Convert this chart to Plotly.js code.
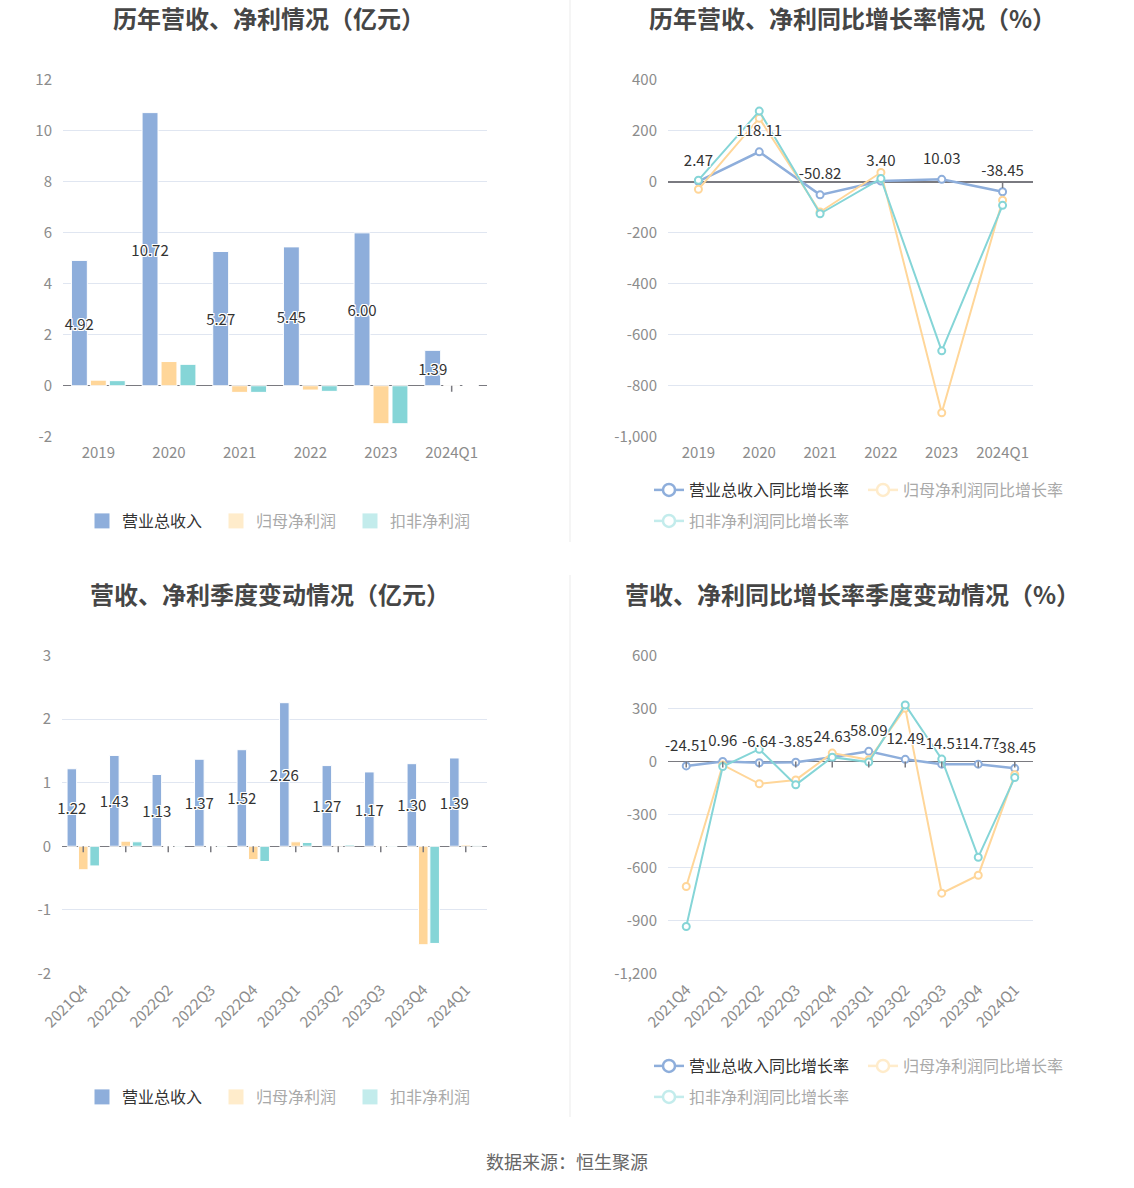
<!DOCTYPE html>
<html><head><meta charset="utf-8">
<script src="https://cdn.plot.ly/plotly-3.0.1.min.js"></script>
<style>html,body{margin:0;padding:0;background:#fff;} #chart{width:1134px;height:1188px;}</style>
</head><body><div id="chart"></div>
<script>
// ---------------- data ----------------
const years = ['2019','2020','2021','2022','2023','2024Q1'];
const revenue = [4.92,10.72,5.27,5.45,6.00,1.39];
const netProfit = [0.22,0.95,-0.26,-0.17,-1.49,0.02];
const deductedProfit = [0.20,0.84,-0.26,-0.22,-1.49,0.01];

const revenueGrowth = [2.47,118.11,-50.82,3.40,10.03,-38.45];
const netProfitGrowth = [-29,250,-118,37,-906,-72];
const deductedGrowth = [7,278,-125,13,-663,-92];

const quarters = ['2021Q4','2022Q1','2022Q2','2022Q3','2022Q4','2023Q1','2023Q2','2023Q3','2023Q4','2024Q1'];
const qRevenue = [1.22,1.43,1.13,1.37,1.52,2.26,1.27,1.17,1.30,1.39];
const qNetProfit = [-0.37,0.08,-0.005,-0.004,-0.21,0.07,0.01,-0.01,-1.55,0.02];
const qDeducted = [-0.31,0.07,-0.01,-0.01,-0.24,0.06,0.02,-0.01,-1.53,0.01];

const qRevenueGrowth = [-24.51,0.96,-6.64,-3.85,24.63,58.09,12.49,-14.51,-14.77,-38.45];
const qNetProfitGrowth = [-708,-19,-126,-104,48,10,302,-746,-644,-75];
const qDeductedGrowth = [-935,-28,70,-132,25,-3,321,14,-542,-91];

const ticksAnnual = [-2,0,2,4,6,8,10,12];
const ticksAnnualGrowth = [-1000,-800,-600,-400,-200,0,200,400];
const ticksQuarter = [-2,-1,0,1,2,3];
const ticksQuarterGrowth = [-1200,-900,-600,-300,0,300,600];

const barNames = ['营业总收入','归母净利润','扣非净利润'];
const lineNames = ['营业总收入同比增长率','归母净利润同比增长率','扣非净利润同比增长率'];
const titles = ['历年营收、净利情况（亿元）','历年营收、净利同比增长率情况（%）','营收、净利季度变动情况（亿元）','营收、净利同比增长率季度变动情况（%）'];
const sourceText = '数据来源：恒生聚源';

// ---------------- style ----------------
const W = 1134, H = 1188;
const FONT = '"Noto Sans CJK SC", "Noto Sans", sans-serif';
const C = ['#8eaedb','#ffd699','#85d5d7'];
const CF = ['#8eaedb','#ffeccb','#c3ecec'];
const grid = '#e0e6f1';
const axisText = '#8c8c8c';
const zeroColor = '#7a7a80';
const shadow = '1px 1px 0 #fff, -1px -1px 0 #fff, 1px -1px 0 #fff, -1px 1px 0 #fff, 0 1px 0 #fff, 0 -1px 0 #fff, 1px 0 0 #fff, -1px 0 0 #fff';
const px = x => x / W;
const py = y => 1 - y / H;
const fmt = v => v.toLocaleString('en-US');
const fmt2 = v => v.toFixed(2);

function yAx(dom, anchor, ticks){
  return {domain:[py(dom[1]), py(dom[0])], anchor:anchor, range:[ticks[0], ticks[ticks.length-1]],
    tickvals:ticks, ticktext:ticks.map(fmt), gridcolor:grid, gridwidth:1,
    zeroline:true, zerolinecolor:zeroColor, zerolinewidth:1.5, showline:false, ticks:'',
    tickfont:{family:FONT,size:15,color:axisText}, ticklabelstandoff:10, fixedrange:true};
}
function xAx(dom, anchor, cats, angle){
  return {domain:[px(dom[0]), px(dom[1])], anchor:anchor, type:'category', categoryarray:cats,
    range:[-0.5, cats.length-0.5], showgrid:false, zeroline:false, showline:false, ticks:'',
    tickangle:angle, tickfont:{family:FONT,size:15,color:axisText}, ticklabelstandoff: angle ? 4 : 5, fixedrange:true};
}

const traces = [];
const shapes = [];
function addZeroTicks(xa, ya, cats){
  cats.forEach(c => shapes.push({type:'line', xref:xa, yref:ya, ysizemode:'pixel', yanchor:0,
    x0:c, x1:c, y0:0, y1:-6, line:{color:zeroColor, width:1.5}, layer:'above'}));
}
function addBars(xa, ya, cats, series, legendId){
  series.forEach((vals, i) => {
    const t = {type:'bar', x:cats, y:vals, xaxis:xa, yaxis:ya, name:barNames[i], showlegend:false,
      marker:{color:C[i], line:{color:'#fff', width:1}}, hoverinfo:'skip', cliponaxis:false};
    if (i === 0) {
      Object.assign(t, {text:vals.map(fmt2), textposition:'inside', insidetextanchor:'middle',
        textangle:0, constraintext:'none',
        insidetextfont:{family:FONT,size:15,color:'#333',shadow:shadow},
        textfont:{family:FONT,size:15,color:'#333',shadow:shadow}});
    }
    traces.push(t);
  });
  barNames.forEach((n, i) => {
    traces.push({type:'scatter', mode:'markers', x:[cats[0]], y:[null], xaxis:xa, yaxis:ya,
      name: i === 0 ? n : '<span style="color:#a9a9a9">'+n+'</span>', legend:legendId, legendwidth:89,
      marker:{symbol:'square', size:15, color:CF[i], line:{width:0}}, hoverinfo:'skip'});
  });
  addZeroTicks(xa, ya, cats);
}
function addLines(xa, ya, cats, series, legendIds){
  series.forEach((vals, i) => {
    traces.push({type:'scatter', mode:'lines+markers', x:cats, y:vals,
      xaxis:xa, yaxis:ya, name:lineNames[i], showlegend:false, cliponaxis:false,
      line:{color:C[i], width: i === 0 ? 2.5 : 2},
      marker:{symbol:'circle', size:7, color:'#fff', line:{color:C[i], width:2}}, hoverinfo:'skip'});
  });
  // value labels of the revenue growth series, drawn above all lines
  traces.push({type:'scatter', mode:'markers+text', x:cats, y:series[0], xaxis:xa, yaxis:ya, showlegend:false,
    cliponaxis:false, text:series[0].map(fmt2), textposition:'top center',
    marker:{size:17, color:'rgba(0,0,0,0)', line:{width:0}},
    textfont:{family:FONT,size:15,color:'#333',shadow:shadow}, hoverinfo:'skip'});
  lineNames.forEach((n, i) => {
    traces.push({type:'scatter', mode:'lines+markers', x:[cats[0]], y:[null], xaxis:xa, yaxis:ya,
      name: i === 0 ? n : '<span style="color:#a9a9a9">'+n+'</span>', legend: i < 2 ? legendIds[0] : legendIds[1],
      legendwidth:169,
      line:{color: i === 0 ? C[0] : CF[i], width:2.5},
      marker:{symbol:'circle', size:12, color:'#fff', line:{color: i === 0 ? C[0] : CF[i], width:2.5}}, hoverinfo:'skip'});
  });
  addZeroTicks(xa, ya, cats);
}

addBars('x','y', years, [revenue, netProfit, deductedProfit], 'legend');
addLines('x2','y2', years, [revenueGrowth, netProfitGrowth, deductedGrowth], ['legend2','legend3']);
addBars('x3','y3', quarters, [qRevenue, qNetProfit, qDeducted], 'legend4');
addLines('x4','y4', quarters, [qRevenueGrowth, qNetProfitGrowth, qDeductedGrowth], ['legend5','legend6']);

function leg(x, y){
  return {orientation:'h', x:px(x), xanchor:'left', y:py(y), yanchor:'middle',
    font:{family:FONT,size:16,color:'#333'}, bgcolor:'rgba(0,0,0,0)', itemclick:false, itemdoubleclick:false,
    itemwidth:30, tracegroupgap:0};
}

const titleFont = {family:FONT, size:24, color:'#464646', weight:'bold'};
function ann(text, x, y, font){
  return {text:text, x:px(x), y:py(y), xref:'paper', yref:'paper', xanchor:'center', yanchor:'middle', showarrow:false, font:font};
}
shapes.push(
  {type:'line', xref:'paper', yref:'paper', x0:px(570), x1:px(570), y0:py(0), y1:py(542), line:{color:'#ebebeb', width:1}},
  {type:'line', xref:'paper', yref:'paper', x0:px(570), x1:px(570), y0:py(575), y1:py(1117), line:{color:'#ebebeb', width:1}}
);

const layout = {
  width:W, height:H, margin:{l:0,r:0,t:0,b:0}, paper_bgcolor:'#fff', plot_bgcolor:'#fff',
  barmode:'group', bargap:0.195, bargroupgap:0.16, hovermode:false,
  xaxis: xAx([63,487],'y', years, 0),
  yaxis: yAx([80,436.7],'x', ticksAnnual),
  xaxis2: xAx([668,1033],'y2', years, 0),
  yaxis2: yAx([80,436.7],'x2', ticksAnnualGrowth),
  xaxis3: xAx([62,487],'y3', quarters, -45),
  yaxis3: yAx([655.7,973.3],'x3', ticksQuarter),
  xaxis4: xAx([668,1033],'y4', quarters, -45),
  yaxis4: yAx([655.7,973.3],'x4', ticksQuarterGrowth),
  legend: leg(82, 521),
  legend2: leg(649, 490),
  legend3: leg(649, 521),
  legend4: leg(82, 1097),
  legend5: leg(649, 1066),
  legend6: leg(649, 1097),
  annotations: [
    ann(titles[0], 269, 18, titleFont),
    ann(titles[1], 852, 18, titleFont),
    ann(titles[2], 270, 593, titleFont),
    ann(titles[3], 852, 593, titleFont),
    ann(sourceText, 567, 1161, {family:FONT,size:18,color:'#666'})
  ],
  shapes: shapes
};

Plotly.newPlot('chart', traces, layout, {displayModeBar:false, staticPlot:true});
</script></body></html>
